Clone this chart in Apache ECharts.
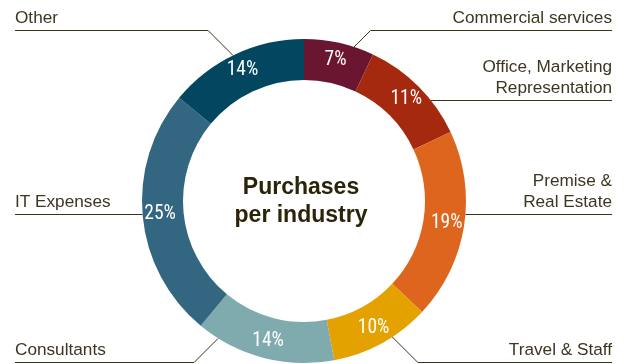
<!DOCTYPE html>
<html>
<head>
<meta charset="utf-8">
<script src="https://cdn.jsdelivr.net/npm/echarts@6/dist/echarts.min.js"></script>
<style>
  html, body { margin: 0; padding: 0; background: #ffffff; }
  #chart { width: 626px; height: 364px; }
</style>
</head>
<body>
<div id="chart"></div>
<script>
// Share of purchases by industry (percent), clockwise from 12 o'clock
const categories = [
  'Commercial services',
  'Office, Marketing\nRepresentation',
  'Premise &\nReal Estate',
  'Travel & Staff',
  'Consultants',
  'IT Expenses',
  'Other'
];
const shares = [7, 11, 19, 10, 14, 25, 14];
const sliceColors = ['#6b1631', '#a5290e', '#de651d', '#e3a200', '#80abae', '#336781', '#03465f'];
const centerTitle = 'Purchases\nper industry';

// Ring geometry
const CX = 304, CY = 201, R_IN = 121, R_OUT = 162;
// Leader lines: y of each horizontal rule, and where a slanted leader leaves the ring
const ruleY = [30.5, 100.5, 214.5, 362.5, 362.5, 214.5, 30.5];
const anchorDeg = [18, null, null, 147, 212, null, 334];
const LEFT_EDGE = 15, RIGHT_EDGE = 612;

const total = shares.reduce((a, b) => a + b, 0);
const midFrac = [];
let acc = 0;
shares.forEach(v => { midFrac.push((acc + v / 2) / total); acc += v; });

const pieData = categories.map((name, i) => ({
  name: name, value: shares[i], itemStyle: { color: sliceColors[i] }
}));

function leaderFor(i) {
  const right = midFrac[i] < 0.5;
  const y = ruleY[i];
  let anchor, elbow;
  if (anchorDeg[i] === null) {
    const dx = Math.sqrt(R_OUT * R_OUT - (y - CY) * (y - CY));
    anchor = [CX + (right ? dx : -dx), y];
    elbow = anchor.slice();
  } else {
    const a = anchorDeg[i] * Math.PI / 180;
    anchor = [CX + R_OUT * Math.sin(a), CY - R_OUT * Math.cos(a)];
    const rise = Math.abs(y - anchor[1]);
    elbow = [anchor[0] + (right ? rise : -rise), y];
  }
  const end = [right ? RIGHT_EDGE : LEFT_EDGE, y];
  return { right: right, points: [anchor, elbow, end], y: y };
}

const chart = echarts.init(document.getElementById('chart'), null, { renderer: 'canvas' });
chart.setOption({
  animation: false,
  backgroundColor: '#ffffff',
  graphic: [{
    type: 'text',
    x: 301,
    y: 202,
    style: {
      text: centerTitle,
      fill: '#2a2409',
      fontSize: 23,
      fontWeight: 'bold',
      fontFamily: 'Liberation Sans, Arial, sans-serif',
      lineHeight: 28,
      align: 'center',
      verticalAlign: 'middle'
    }
  }],
  series: [
    {
      type: 'pie',
      center: [CX, CY],
      radius: [R_IN, R_OUT],
      startAngle: 90,
      clockwise: true,
      silent: true,
      avoidLabelOverlap: false,
      data: pieData,
      label: {
        show: true,
        position: 'inside',
        formatter: '{c}%',
        color: '#ffffff',
        fontSize: 19.5,
        fontFamily: 'Roboto Condensed, Liberation Sans Narrow, DejaVu Sans Condensed, sans-serif'
      },
      labelLine: { show: false }
    },
    {
      type: 'pie',
      center: [CX, CY],
      radius: [R_IN, R_OUT],
      startAngle: 90,
      clockwise: true,
      silent: true,
      avoidLabelOverlap: false,
      z: 1,
      data: pieData.map(d => ({ name: d.name, value: d.value, itemStyle: { color: 'rgba(0,0,0,0)' } })),
      label: {
        show: true,
        position: 'outside',
        formatter: '{b}',
        color: '#3c3621',
        fontSize: 17.2,
        lineHeight: 21,
        fontFamily: 'Liberation Sans, Arial, sans-serif'
      },
      labelLine: {
        show: true,
        length: 10,
        length2: 10,
        smooth: false,
        lineStyle: { color: '#3b3217', width: 1 }
      },
      labelLayout: function (params) {
        const L = leaderFor(params.dataIndex);
        return {
          x: L.right ? RIGHT_EDGE : LEFT_EDGE,
          y: L.y - 2,
          align: L.right ? 'right' : 'left',
          verticalAlign: 'bottom',
          labelLinePoints: L.points
        };
      }
    }
  ]
});
</script>
</body>
</html>
